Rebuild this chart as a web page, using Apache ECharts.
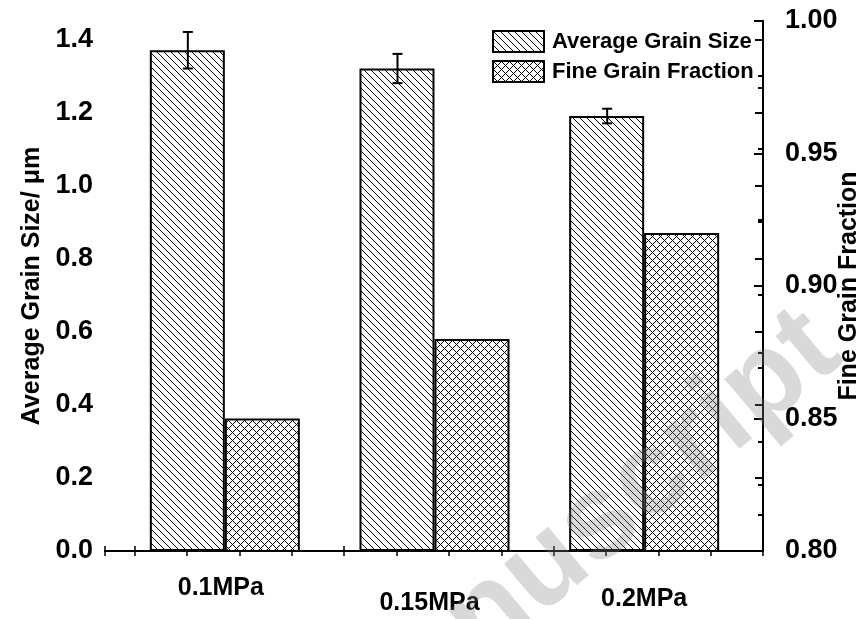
<!DOCTYPE html>
<html>
<head>
<meta charset="utf-8">
<script src="https://cdn.jsdelivr.net/npm/echarts@6/dist/echarts.min.js"></script>
<style>html,body{margin:0;background:#fff}#main{width:865px;height:619px}</style>
</head>
<body>
<div id="main"></div>
<script>
var categories   = ['0.1MPa', '0.15MPa', '0.2MPa'];
var grainSize    = [1.37, 1.32, 1.19];
var grainSizeErr = [0.05, 0.04, 0.02];
var fineFraction = [0.85, 0.88, 0.92];
var leftTicks    = [0, 0.2, 0.4, 0.6, 0.8, 1.0, 1.2, 1.4];
var leftMinor    = [0.1, 0.3, 0.5, 0.7, 0.9, 1.1, 1.3];

var FONT = 'Liberation Sans, Arial, sans-serif';

// pixel hatch tiles, like the origin fill patterns
function makePattern(step, cross) {
  var c = document.createElement('canvas');
  c.width = step; c.height = step;
  var ctx = c.getContext('2d');
  ctx.fillStyle = '#fff';
  ctx.fillRect(0, 0, step, step);
  ctx.fillStyle = '#000';
  for (var x = 0; x < step; x++) {
    for (var y = 0; y < step; y++) {
      if (x === y || (cross && (x + y) % step === 0)) ctx.fillRect(x, y, 1, 1);
    }
  }
  return { image: c, repeat: 'repeat' };
}
var diagFill  = makePattern(7, false);
var crossFill = makePattern(8, true);

var black = { color: '#000', width: 2 };
var tickText = { color: '#000', fontFamily: FONT, fontWeight: 'bold', fontSize: 27 };
var titleText = { color: '#000', fontFamily: FONT, fontWeight: 'bold', fontSize: 25 };
var catText = { fontFamily: FONT, fontWeight: 'bold', fontSize: 25, color: '#000' };

var myChart = echarts.init(document.getElementById('main'));

var option = {
  animation: false,
  backgroundColor: '#fff',
  grid: [
    { left: 105, right: 102, top: 21, bottom: 68, outerBoundsMode: 'none' },   // frame
    { left: 120, right: 116, top: 21, bottom: 68, outerBoundsMode: 'none' }    // bars
  ],
  legend: {
    data: ['Average Grain Size', 'Fine Grain Fraction'],
    orient: 'vertical',
    left: 492, top: 30, padding: 0,
    itemWidth: 51, itemHeight: 21, itemGap: 7,
    icon: 'rect',
    itemStyle: { borderColor: '#000', borderWidth: 2 },
    textStyle: { color: '#000', fontFamily: FONT, fontWeight: 'bold', fontSize: 22, padding: [0, 0, 0, 3] }
  },
  xAxis: [
    {
      gridIndex: 0, type: 'value', position: 'bottom', inverse: true,
      min: 0, max: 12.57, interval: 1,
      axisLine: { lineStyle: black },
      axisTick: { inside: true, length: 5, lineStyle: { color: '#000', width: 1.5 } },
      axisLabel: { show: false }, splitLine: { show: false }
    },
    {
      gridIndex: 0, type: 'value', position: 'top', inverse: true,
      min: 0, max: 12.57, interval: 1,
      axisLine: { lineStyle: black },
      axisTick: { inside: true, length: 5, lineStyle: { color: '#000', width: 1.5 } },
      axisLabel: { show: false }, splitLine: { show: false }
    },
    {
      gridIndex: 1, type: 'category', data: categories, position: 'bottom',
      axisLine: { show: false }, axisTick: { show: false },
      axisLabel: {
        margin: 25,
        formatter: function (v, i) { return '{l' + i + '|' + v + '}'; },
        rich: {
          l0: Object.assign({ padding: [0, 8, 0, 0] }, catText),
          l1: Object.assign({ padding: [15, 10, 0, 0] }, catText),
          l2: Object.assign({ padding: [11, 0, 0, 0] }, catText)
        }
      }
    }
  ],
  yAxis: [
    {
      gridIndex: 0, type: 'value', position: 'left',
      min: 0, max: 1.45, interval: 0.2,
      name: 'Average Grain Size/ \u03bcm', nameLocation: 'middle', nameGap: 60,
      nameTextStyle: titleText,
      axisLine: { show: true, lineStyle: black },
      axisTick: { customValues: leftTicks, length: 8, lineStyle: { color: '#000', width: 2 } },
      axisLabel: Object.assign({ customValues: leftTicks, margin: 12,
        formatter: function (v) { return v.toFixed(1); } }, tickText),
      splitLine: { show: false }
    },
    {
      gridIndex: 0, type: 'value', position: 'left',
      min: 0, max: 1.45,
      axisLine: { show: false },
      axisTick: { customValues: leftMinor, length: 5, lineStyle: { color: '#000', width: 2 } },
      axisLabel: { show: false }, splitLine: { show: false }
    },
    {
      gridIndex: 0, type: 'value', position: 'right',
      min: 0.8, max: 1.0, interval: 0.05,
      name: 'Fine Grain Fraction', nameLocation: 'middle', nameGap: 74, nameRotate: 90,
      nameMoveOverlap: false,
      nameTextStyle: titleText,
      axisLine: { show: true, lineStyle: black },
      axisTick: { inside: true, length: 9, lineStyle: { color: '#000', width: 2 } },
      minorTick: { show: true, splitNumber: 2, length: 5, lineStyle: { color: '#000', width: 2 } },
      axisLabel: Object.assign({ margin: 22,
        formatter: function (v) { return v.toFixed(2); } }, tickText),
      splitLine: { show: false }
    },
    { gridIndex: 1, type: 'value', min: 0, max: 1.45, show: false },
    { gridIndex: 1, type: 'value', min: 0.8, max: 1.0, show: false }
  ],
  graphic: [{
    type: 'text', x: 334, y: 746, rotation: Math.PI * 40 / 180, z: 100, silent: true,
    style: { text: 'Manuscript', font: 'bold 120px ' + FONT, fill: 'rgba(130,130,130,0.3)',
      align: 'left', verticalAlign: 'middle' }
  }],
  series: [
    {
      name: 'Average Grain Size', type: 'bar', xAxisIndex: 2, yAxisIndex: 3,
      data: grainSize, barWidth: 75, barGap: '0%',
      itemStyle: { color: diagFill, borderColor: '#000', borderWidth: 2 }
    },
    {
      name: 'Fine Grain Fraction', type: 'bar', xAxisIndex: 2, yAxisIndex: 4,
      data: fineFraction, barWidth: 75,
      itemStyle: { color: crossFill, borderColor: '#000', borderWidth: 2 }
    },
    {
      type: 'custom', xAxisIndex: 2, yAxisIndex: 3, z: 10,
      data: grainSize.map(function (v, i) { return [i, v, grainSizeErr[i]]; }),
      renderItem: function (params, api) {
        var x = api.coord([api.value(0), api.value(1)])[0] - 37;
        var top = api.coord([api.value(0), api.value(1) + api.value(2)])[1];
        var bot = api.coord([api.value(0), api.value(1) - api.value(2)])[1];
        var st = { stroke: '#000', lineWidth: 2 };
        return { type: 'group', children: [
          { type: 'line', shape: { x1: x, y1: top, x2: x, y2: bot }, style: st },
          { type: 'line', shape: { x1: x - 5, y1: top, x2: x + 5, y2: top }, style: st },
          { type: 'line', shape: { x1: x - 5, y1: bot, x2: x + 5, y2: bot }, style: st }
        ] };
      }
    }
  ]
};

myChart.setOption(option);
</script>
</body>
</html>
